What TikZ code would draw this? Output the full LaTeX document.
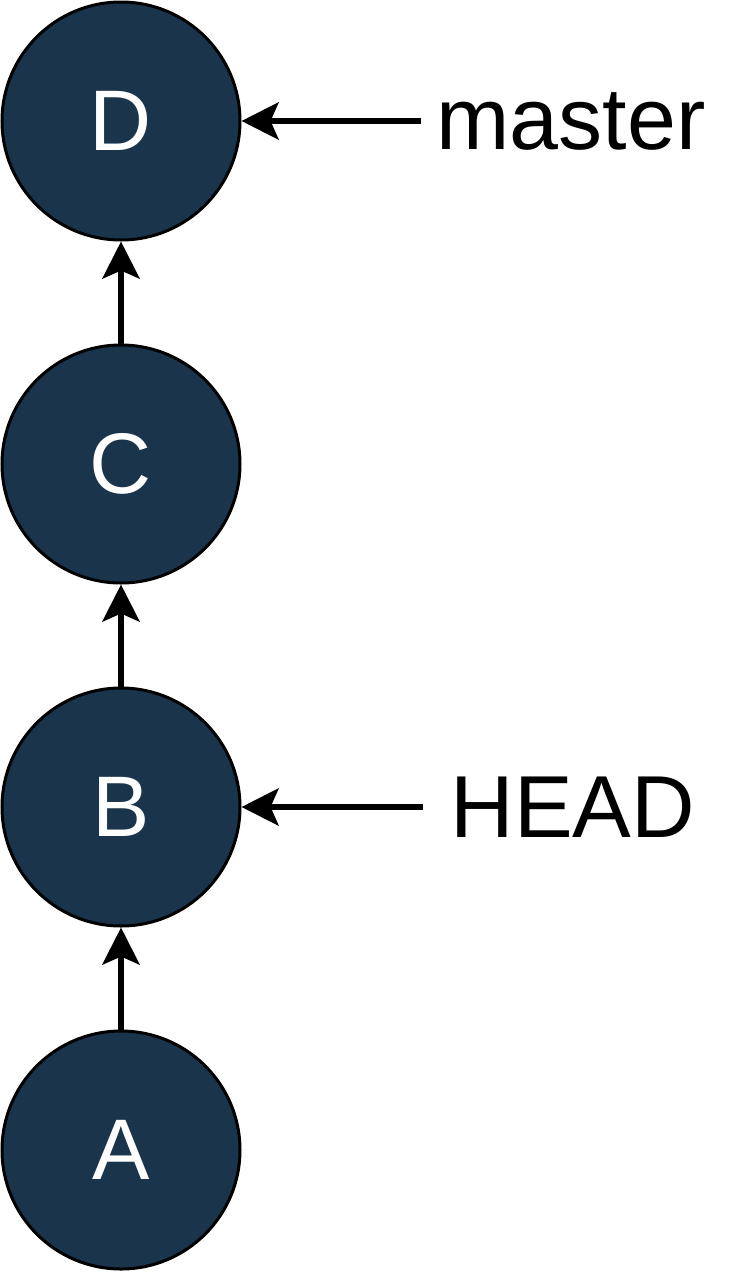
\documentclass[tikz,border=0pt]{standalone}
\usepackage{fontspec}
\setmainfont{Liberation Sans}
\usetikzlibrary{arrows.meta}
\definecolor{commitblue}{HTML}{1A344C}
\tikzset{
	commit/.style={circle, draw=black, line width=3pt, fill=commitblue, minimum size=238pt, inner sep=0pt, text=white, font=\fontsize{86}{100}\selectfont},
	reflabel/.style={minimum width=300pt, inner sep=0pt, font=\fontsize{88}{100}\selectfont},
	parent/.style={line width=6pt, -{Stealth[length=37pt, width=37pt, inset=8pt]}}
}

\begin{document}
\begin{tikzpicture}[x=1pt, y=1pt]
			%%%%% START %%%%%
			
			\useasboundingbox (0, 0) rectangle (735, -1272);
			
			\node[commit] (D) at (121, -121) {D};
			\node[commit] (C) at (121, -464) {C};
			\node[commit] (B) at (121, -807) {B};
			\node[commit] (A) at (121, -1150) {A};
			
			\node[reflabel] (master) at (571, -121) {master};
			\node[reflabel] (head) at (573, -807) {HEAD};
			
			\draw[parent] (A.north) -- (B.south);
			\draw[parent] (B.north) -- (C.south);
			\draw[parent] (C.north) -- (D.south);
			
			\draw[parent] (master.west) -- (D.east);
			\draw[parent] (head.west) -- (B.east);
			
			%%%%% END %%%%%
\end{tikzpicture}
\end{document}
